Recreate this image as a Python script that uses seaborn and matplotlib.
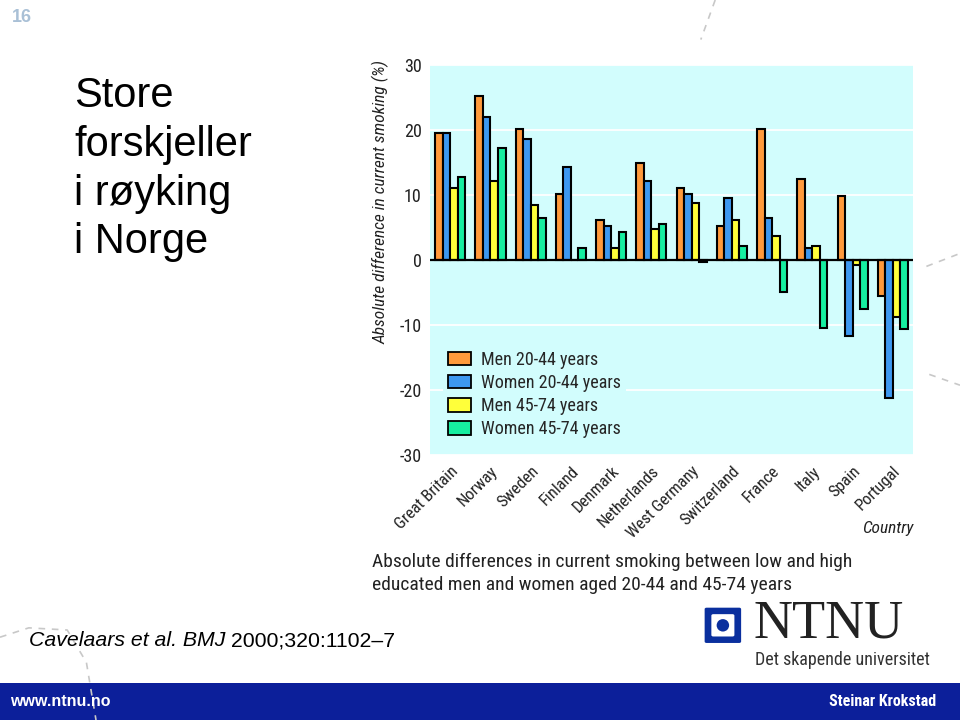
import pandas as pd
import matplotlib.pyplot as plt
import matplotlib.patches as mpatches
import matplotlib.lines as mlines
import seaborn as sns

countries = ['Great Britain', 'Norway', 'Sweden', 'Finland', 'Denmark', 'Netherlands',
             'West Germany', 'Switzerland', 'France', 'Italy', 'Spain', 'Portugal']
groups = ['Men 20-44 years', 'Women 20-44 years', 'Men 45-74 years', 'Women 45-74 years']
men_20_44 = [19.6, 25.2, 20.1, 10.1, 6.1, 14.9, 11.1, 5.3, 20.1, 12.5, 9.8, -5.6]
women_20_44 = [19.6, 22.0, 18.6, 14.3, 5.3, 12.2, 10.1, 9.5, 6.4, 1.8, -11.7, -21.3]
men_45_74 = [11.1, 12.2, 8.5, 0.0, 1.8, 4.7, 8.8, 6.1, 3.7, 2.1, -0.8, -8.8]
women_45_74 = [12.8, 17.2, 6.4, 1.8, 4.3, 5.6, -0.3, 2.1, -4.9, -10.4, -7.5, -10.6]
colors = ['#ff9a3c', '#3d98f0', '#ffff3a', '#16eea0']

rows = []
for g, vals in zip(groups, [men_20_44, women_20_44, men_45_74, women_45_74]):
    for c, v in zip(countries, vals):
        rows.append({'Country': c, 'Group': g, 'Value': v})
df = pd.DataFrame(rows)

sns.set_style('white')
narrow = ['Roboto Condensed', 'Liberation Sans', 'DejaVu Sans']
plt.rcParams['font.family'] = ['Liberation Sans', 'DejaVu Sans']

fig = plt.figure(figsize=(9.6, 7.2), dpi=100)
ax = fig.add_axes([0.448, 0.368, 0.503, 0.5417])
ax.set_facecolor('#d2fdfd')

sns.barplot(data=df, x='Country', y='Value', hue='Group', hue_order=groups,
            palette=colors, width=0.75, edgecolor='black', linewidth=1.5,
            saturation=1, ax=ax)

ax.set_ylim(-30, 30)
ax.set_xlim(-0.5, 11.5)
ax.set_yticks([-30, -20, -10, 0, 10, 20, 30])
ax.set_yticklabels(['-30', '-20', '-10', '0', '10', '20', '30'], family=narrow, fontsize=13, color='#222')
ax.set_xticks(range(len(countries)))
ax.set_xticklabels(countries, rotation=45, ha='right', rotation_mode='anchor',
                   family=narrow, fontsize=12, color='#222')
ax.tick_params(length=0, pad=6)
ax.yaxis.grid(True, color='white', linewidth=1.3)
ax.set_axisbelow(True)
ax.axhline(0, color='black', linewidth=1.6, zorder=5)
for s in ax.spines.values():
    s.set_visible(False)
ax.set_xlabel('')
ax.set_ylabel('')

handles = [mpatches.Patch(facecolor=c, edgecolor='black', linewidth=1.3) for c in colors]
leg = ax.legend(handles, groups, loc='lower left', bbox_to_anchor=(0.008, 0.006),
                frameon=True, facecolor='#d2fdfd', edgecolor='none', framealpha=1,
                prop={'family': narrow, 'size': 13}, handlelength=1.25, handleheight=0.75,
                labelspacing=0.28, handletextpad=0.55, borderpad=0.3)

fig.text(0.397, 0.72, 'Absolute difference in current smoking (%)', rotation=90,
         ha='center', va='center', style='italic', family=narrow, fontsize=12.5, color='#222')
fig.text(0.951, 0.266, 'Country', ha='right', va='center', style='italic',
         family=narrow, fontsize=12.5, color='#222')
fig.text(0.387, 0.203, 'Absolute differences in current smoking between low and high\n'
         'educated men and women aged 20-44 and 45-74 years',
         ha='left', va='center', family=narrow, fontsize=14, color='#222', linespacing=1.35)

# slide decoration
fig.text(0.012, 0.976, '16', ha='left', va='center', fontsize=13, weight='bold', color='#a9c0d6')
fig.text(0.077, 0.765, 'Store\nforskjeller\ni røyking\ni Norge', ha='left', va='center',
         fontsize=30, color='black', linespacing=1.28)
cite = fig.text(0.03, 0.11, 'Cavelaars et al. BMJ', ha='left', va='center', style='italic',
                fontsize=15.3, color='black')
ax.annotate(' 2000;320:1102–7', xy=(1, 0.5), xycoords=cite, ha='left', va='center',
            fontsize=15.3, color='black', annotation_clip=False)

for xs, ys in [([0.745, 0.73], [1.0, 0.945]),
               ([0.965, 1.0], [0.63, 0.648]),
               ([0.968, 1.0], [0.48, 0.465]),
               ([0.0, 0.03, 0.07, 0.09, 0.1], [0.115, 0.128, 0.125, 0.08, 0.0])]:
    fig.add_artist(mlines.Line2D(xs, ys, transform=fig.transFigure, color='#c8c8c8',
                                 linewidth=1.2, linestyle=(0, (4, 4))))

fig.add_artist(mpatches.FancyBboxPatch((0.736, 0.109), 0.034, 0.045, boxstyle='round,pad=0.002',
                                       transform=fig.transFigure, facecolor='#0a2f9e', edgecolor='none'))
fig.add_artist(mpatches.FancyBboxPatch((0.743, 0.118), 0.02, 0.027, boxstyle='round,pad=0.002',
                                       transform=fig.transFigure, facecolor='white', edgecolor='none'))
fig.add_artist(mpatches.Ellipse((0.753, 0.1315), 0.013, 0.0173, transform=fig.transFigure,
                                facecolor='#0a2f9e', edgecolor='none'))
fig.text(0.785, 0.133, 'NTNU', ha='left', va='center', family=['Liberation Serif', 'DejaVu Serif'],
         fontsize=39, color='#222')
fig.text(0.786, 0.083, 'Det skapende universitet', ha='left', va='center', family=narrow,
         fontsize=13, color='#333')

fig.add_artist(mpatches.Rectangle((0, 0), 1, 0.051, transform=fig.transFigure,
                                  facecolor='#0c1f9a', edgecolor='none'))
fig.text(0.01, 0.026, 'www.ntnu.no', ha='left', va='center', fontsize=11.5, weight='bold',
         color='white')
fig.text(0.975, 0.026, 'Steinar Krokstad', ha='right', va='center', fontsize=11.5,
         weight='bold', color='white', family=narrow)

fig.savefig('out.png', dpi=100)
